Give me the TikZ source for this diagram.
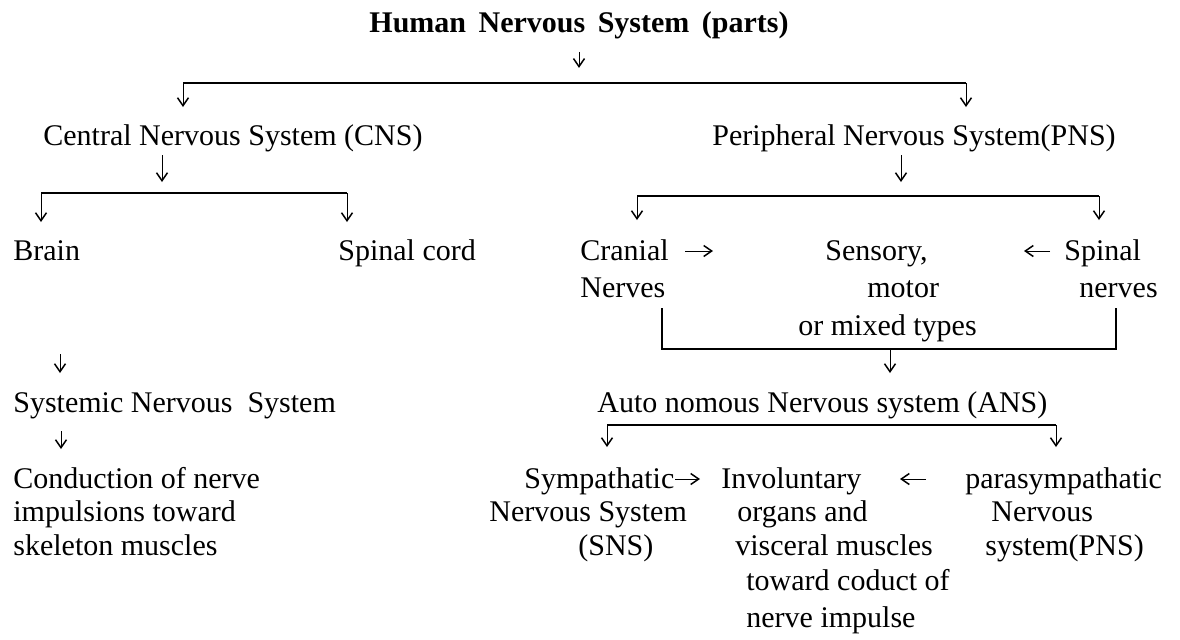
\documentclass[tikz,border=0pt]{standalone}
\usepackage{fontspec}
\setmainfont{Liberation Serif}
\usetikzlibrary{arrows.meta, positioning}
\newcommand\chartfont{\fontsize{15}{16.75}\selectfont}

\begin{document}
\begin{tikzpicture}[x=0.5pt, y=-0.5pt,
    txt/.style={inner sep=0pt, anchor=base west, align=left, font=\chartfont},
    bar/.style={line width=1.3pt},
    dn/.style={line width=0.5pt, -{Straight Barb[length=4pt, width=5.5pt, line width=0.75pt]}}]
  \useasboundingbox (0,0) rectangle (1180,639);

  % title and first split
  \node[txt, anchor=base, font=\chartfont\bfseries] (hns) at (579,32) {Human \,Nervous \,System \,(parts)};
  \draw[dn] (hns.south) ++(0,13) -- ++(0,16);
  \coordinate (top-l) at (183,83);
  \coordinate (top-r) at (966,83);
  \draw[bar] (top-l) -- (top-r);
  \draw[dn] (top-l) -- ++(0,24);
  \draw[dn] (top-r) -- ++(0,24);

  % central side
  \node[txt] (cns) at (43,145) {Central Nervous System (CNS)};
  \coordinate (cns-dn) at (162,155);
  \draw[dn] (cns-dn) -- ++(0,27);
  \coordinate (cns-l) at (41,193);
  \coordinate (cns-r) at (347,193);
  \draw[bar] (cns-l) -- (cns-r);
  \draw[dn] (cns-l) -- ++(0,29);
  \draw[dn] (cns-r) -- ++(0,29);
  \node[txt] (brain) at (13,260) {Brain};
  \node[txt] (cord) at (338,260) {Spinal cord};
  \coordinate (brain-dn) at (60,354);
  \draw[dn] (brain-dn) -- ++(0,19);
  \node[txt] (sys) at (13,412) {Systemic Nervous\enspace System};
  \coordinate (sys-dn) at (61,431);
  \draw[dn] (sys-dn) -- ++(0,18);
  % base anchor of a multi-line node sits on its last line
  \node[txt] (cond) at (13,555) {Conduction of nerve\\impulsions toward\\skeleton muscles};

  % peripheral side
  \node[txt] (pns) at (712,145) {Peripheral Nervous System(PNS)};
  \coordinate (pns-dn) at (901,155);
  \draw[dn] (pns-dn) -- ++(0,27);
  \coordinate (pns-l) at (637,196);
  \coordinate (pns-r) at (1099,196);
  \draw[bar] (pns-l) -- (pns-r);
  \draw[dn] (pns-l) -- ++(0,24);
  \draw[dn] (pns-r) -- ++(0,24);
  \node[txt] (cran) at (580,297) {Cranial\\[1.75pt]Nerves};
  \node[txt] (types) at (798,335) {\hspace*{13.5pt}Sensory,\\[1.75pt]\hspace*{34.5pt}motor\\[2pt]or mixed types};
  \node[txt] (spin) at (1064,297) {Spinal\\[1.75pt]\hspace*{7.5pt}nerves};
  \coordinate (cran-to) at (685,251);
  \coordinate (spin-to) at (1050,251);
  \draw[dn] (cran-to) -- ++(28,0);
  \draw[dn] (spin-to) -- ++(-26,0);

  % join into ANS
  \coordinate (join-l) at (662,308);
  \coordinate (join-r) at (1116,308);
  \draw[bar] (join-l) -- ++(0,41) -| (join-r);
  \coordinate (join-dn) at (890,349);
  \draw[dn] (join-dn) -- ++(0,24);
  \node[txt] (ans) at (597,412) {Auto nomous Nervous system (ANS)};
  \coordinate (ans-l) at (607,425);
  \coordinate (ans-r) at (1056,425);
  \draw[bar] (ans-l) -- (ans-r);
  \draw[dn] (ans-l) -- ++(0,22);
  \draw[dn] (ans-r) -- ++(0,22);

  % ANS branches
  \node[txt] (symp) at (489,555) {\hspace*{17.5pt}Sympathatic\\Nervous System\\\hspace*{44.5pt}(SNS)};
  \node[txt] (invol) at (721,627) {Involuntary\\\hspace*{8pt}organs and\\\hspace*{7pt}visceral muscles\\[0.75pt]\hspace*{12.5pt}toward coduct of\\[1.75pt]\hspace*{12.5pt}nerve impulse};
  \node[txt] (para) at (965,555) {parasympathatic\\\hspace*{13pt}Nervous\\\hspace*{10pt}system(PNS)};
  \coordinate (symp-to) at (675,479);
  \coordinate (para-to) at (926,479);
  \draw[dn] (symp-to) -- ++(25,0);
  \draw[dn] (para-to) -- ++(-26,0);
\end{tikzpicture}
\end{document}
